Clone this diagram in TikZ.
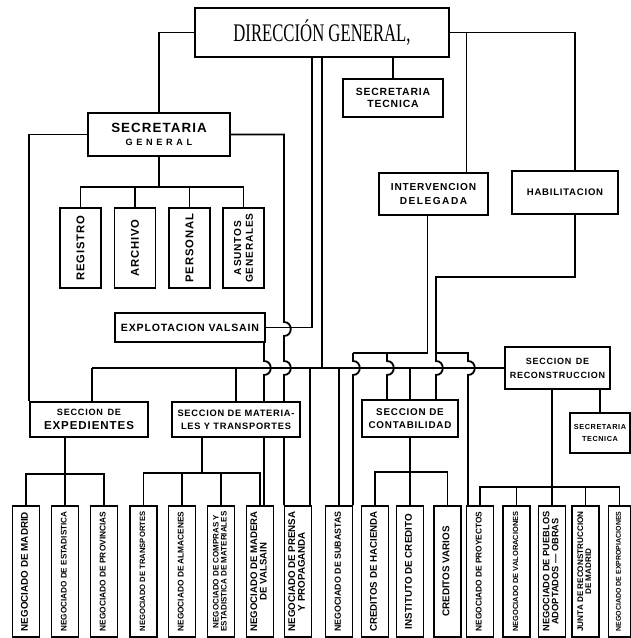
\documentclass[tikz,border=0pt]{standalone}
\usepackage{fontspec}
\setmainfont{Liberation Serif}
\setsansfont{Liberation Sans}
\newfontfamily\lettering{Liberation Sans}[LetterSpace=8]
\usepackage{graphicx}
\usetikzlibrary{calc,backgrounds}

\renewcommand{\arraystretch}{0.9}
% long vertical labels are shrunk to the box length
\newcommand{\negtext}[1]{\resizebox{\ifdim\width>3cm 3cm\else\width\fi}{!}{\begin{tabular}{@{}c@{}}#1\end{tabular}}}

\begin{document}
\begin{tikzpicture}[
  x=0.025cm, y=-0.025cm,
  every node/.style={font=\lettering\bfseries\fontsize{7}{8}\selectfont},
  box/.style={draw, line width=1.4pt, fill=white, align=center, inner sep=1pt},
  upbox/.style={box, rotate=90, minimum width=2cm, minimum height=1.025cm,
                font=\lettering\bfseries\fontsize{8}{8.8}\selectfont},
  negbox/.style={box, rotate=90, minimum width=3.275cm, minimum height=0.675cm,
                 font=\sffamily\bfseries\fontsize{7}{7.6}\selectfont},
  link/.style={line width=1.3pt},
  trunk/.style={line width=2pt}
]
  \useasboundingbox (0,0) rectangle (631,638);

  % direccion and the boxes under it
  \node[box, line width=1.8pt, minimum width=6.35cm, minimum height=1.225cm,
        font=\rmfamily\fontsize{18}{18}\selectfont] (dg) at (322,32.5)
    {\scalebox{0.66}[1]{DIRECCIÓN GENERAL,}};
  \node[box, minimum width=3.55cm, minimum height=1.075cm,
        font=\lettering\bfseries\fontsize{9.5}{10.5}\selectfont] (sgen) at (159,134.5)
    {SECRETARIA\\[-1pt]{\fontsize{6.5}{7}\selectfont\addfontfeature{LetterSpace=40}GENERAL}};
  \node[box, minimum width=2.5cm, minimum height=0.95cm,
        font=\lettering\bfseries\fontsize{7.4}{9}\selectfont] (sectec) at (393,98)
    {SECRETARIA\\TECNICA};
  \node[box, minimum width=2.725cm, minimum height=1.05cm,
        font=\lettering\bfseries\fontsize{7.2}{10}\selectfont] (interv) at (433.5,194)
    {INTERVENCION\\{\addfontfeature{LetterSpace=15}DELEGADA}};
  \node[box, minimum width=2.65cm, minimum height=1.075cm,
        font=\lettering\bfseries\fontsize{6.8}{8}\selectfont] (habil) at (565,192.5)
    {HABILITACION};

  \node[upbox] (registro) at (80.5,248)  {REGISTRO};
  \node[upbox] (archivo)  at (135,248)   {ARCHIVO};
  \node[upbox] (personal) at (189.5,248) {PERSONAL};
  \node[upbox, font=\lettering\bfseries\fontsize{7.2}{8.4}\selectfont] (asuntos) at (243.5,248)
    {ASUNTOS\\GENERALES};

  \node[box, minimum width=3.75cm, minimum height=0.725cm,
        font=\lettering\bfseries\fontsize{7.5}{8}\selectfont] (explot) at (190,327.5)
    {EXPLOTACION VALSAIN};

  % secciones
  \node[box, minimum width=2.95cm, minimum height=0.875cm,
        font=\lettering\bfseries\fontsize{8.2}{9.5}\selectfont] (secexp) at (89,419.5)
    {{\fontsize{6.5}{7}\selectfont SECCION\enspace DE}\\EXPEDIENTES};
  \node[box, minimum width=3.2cm, minimum height=0.875cm,
        font=\lettering\bfseries\fontsize{6.6}{9}\selectfont] (secmat) at (236,419.5)
    {SECCION DE MATERIA-\\LES Y TRANSPORTES};
  \node[box, minimum width=2.4cm, minimum height=0.925cm,
        font=\lettering\bfseries\fontsize{7}{9}\selectfont] (seccont) at (410,418.5)
    {SECCION DE\\CONTABILIDAD};
  \node[box, minimum width=2.625cm, minimum height=1.05cm,
        font=\lettering\bfseries\fontsize{6.4}{10}\selectfont] (secrec) at (557.5,368)
    {SECCION\enspace DE\\RECONSTRUCCION};
  \node[box, minimum width=1.5cm, minimum height=1cm,
        font=\lettering\bfseries\fontsize{5.2}{9}\selectfont] (sectec2) at (600,433)
    {SECRETARIA\\TECNICA};

  % negociados
  \node[negbox] (madrid)    at (26,571.5)    {\negtext{NEGOCIADO DE MADRID}};
  \node[negbox] (estad)     at (65,571.5)    {\negtext{NEGOCIADO DE ESTADISTICA}};
  \node[negbox] (provin)    at (104,571.5)   {\negtext{NEGOCIADO DE PROVINCIAS}};
  \node[negbox] (transp)    at (143.5,571.5) {\negtext{NEGOCIADO DE TRANSPORTES}};
  \node[negbox] (almac)     at (182,571.5)   {\negtext{NEGOCIADO DE ALMACENES}};
  \node[negbox] (compras)   at (221,571.5)   {\negtext{NEGOCIADO DE COMPRAS Y\\ESTADISTICA DE MATERIALES}};
  \node[negbox] (madera)    at (260,571.5)   {\negtext{NEGOCIADO DE MADERA\\DE VALSAIN}};
  \node[negbox] (prensa)    at (298,571.5)   {\negtext{NEGOCIADO DE PRENSA\\Y PROPAGANDA}};
  \node[negbox] (subastas)  at (339,571.5)   {\negtext{NEGOCIADO DE SUBASTAS}};
  \node[negbox] (hacienda)  at (375,571.5)   {\negtext{CREDITOS DE HACIENDA}};
  \node[negbox] (instituto) at (410,571.5)   {\negtext{INSTITUTO DE CREDITO}};
  \node[negbox] (varios)    at (447.5,571.5) {\negtext{CREDITOS VARIOS}};
  \node[negbox] (proyectos) at (480,571.5)   {\negtext{NEGOCIADO DE PROYECTOS}};
  \node[negbox] (valorac)   at (516.5,571.5) {\negtext{NEGOCIADO DE VALORACIONES}};
  \node[negbox] (pueblos)   at (552,571.5)   {\negtext{NEGOCIADO DE PUEBLOS\\ADOPTADOS --- OBRAS}};
  \node[negbox] (junta)     at (585.5,571.5) {\negtext{JUNTA DE RECONSTRUCCION\\DE MADRID}};
  \node[negbox, minimum height=0.55cm] (exprop) at (619.5,571.5) {\negtext{NEGOCIADO DE EXPROPIACIONES}};

  \begin{scope}[on background layer]
  \fill[white] (0,0) rectangle (631,638);
  \begin{scope}[link]
    % from the direccion
    \draw (dg.west) -| (sgen.north);
    \draw (dg.east) -| ($(habil.north)+(10,0)$);
    \draw ($(interv.north)+(33,0)$) |- (dg.east);
    \draw (sectec.north) -- (sectec.north |- dg.south);
    \draw (explot.east) -| ($(dg.south)+(-10,0)$);
    \draw[trunk] (dg.south) -- (dg.south |- secrec.west);

    % main bus
    \coordinate (busL) at (92,368);
    \draw (busL) -- (secrec.west);
    \draw (busL) -- (busL |- secexp.north);
    \draw (secmat.north) -- (secmat.north |- busL);
    \coordinate (pr) at ($(prensa.east)+(12,0)$);
    \draw (pr) -- (pr |- busL);
    \draw (subastas.east) -- (subastas.east |- busL);
    \draw (seccont.north) -- (seccont.north |- busL);

    % secretaria general, with jumps over crossing lines
    \draw (sgen.west) -| (secexp.north west);
    \draw (sgen.east) -| (284,322) .. controls (293,322) and (293,336) .. (284,336)
      -- (284,361) .. controls (293,361) and (293,375) .. (284,375) -- (prensa.east -| 284,0);
    \draw (explot.south -| 264,0) -- (264,361) .. controls (273,361) and (273,375) .. (264,375)
      -- (madera.east -| 264,0);

    % intervencion and habilitacion
    \coordinate (iv) at ($(interv.south)+(-6,0)$);
    \draw (iv) |- (353,353);
    \draw (353,353) -- (353,361) .. controls (362,361) and (362,375) .. (353,375) -- (subastas.east -| 353,0);
    \draw (387,353) -- (387,361) .. controls (396,361) and (396,375) .. (387,375) -- (seccont.north -| 387,0);
    \coordinate (hb) at ($(habil.south)+(10,0)$);
    \draw (hb) |- (436,277) -- (436,361) .. controls (445,361) and (445,375) .. (436,375)
      -- (seccont.north -| 436,0);
    \draw (436,353) -| (468,361) .. controls (477,361) and (477,375) .. (468,375) -- (proyectos.east -| 468,0);

    % units
    \draw (sgen.south) -- (sgen.south |- 0,187);
    \draw (registro.east) |- (asuntos.east |- 0,187) -- (asuntos.east);
    \foreach \n in {archivo,personal} \draw (\n.east) -- (\n.east |- 0,187);

    \draw (estad.east) -- (estad.east |- secexp.south);
    \draw (madrid.east) |- (provin.east |- 0,474) -- (provin.east);

    \coordinate (sm) at ($(secmat.south)+(-34,0)$);
    \draw (sm) -- (sm |- 0,473);
    \draw (transp.east) |- (madera.east |- 0,473) -- (madera.east);
    \foreach \n in {almac,compras} \draw (\n.east) -- (\n.east |- 0,473);

    \draw (instituto.east) -- (instituto.east |- seccont.south);
    \draw (hacienda.east) |- (varios.east |- 0,472) -- (varios.east);

    \draw (pueblos.east) -- (pueblos.east |- secrec.south);
    \draw (proyectos.east) |- (exprop.east |- 0,487) -- (exprop.east);
    \foreach \n in {valorac,junta} \draw (\n.east) -- (\n.east |- 0,487);
    \draw (sectec2.north) -- (sectec2.north |- secrec.south);
  \end{scope}
  \end{scope}
\end{tikzpicture}
\end{document}
